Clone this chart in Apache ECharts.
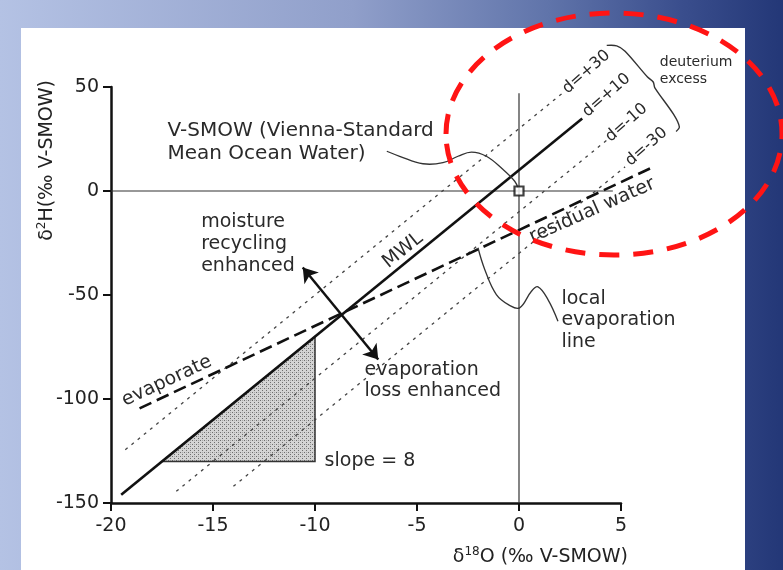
<!DOCTYPE html>
<html>
<head>
<meta charset="utf-8">
<script src="https://cdn.jsdelivr.net/npm/echarts@6/dist/echarts.min.js"></script>
<style>
  html, body { margin: 0; padding: 0; }
  #chart { width: 783px; height: 570px; }
</style>
</head>
<body>
<div id="chart"></div>
<script>
// δ2H = 8·δ18O + d, drawn for the four deuterium-excess values
const mwl = [[-19.5, -146], [3.1, 34.8]]
const dPlus30 = [[-19.3, -124.4], [2.1, 46.8]]
const dMinus10 = [[-16.8, -144.4], [4.3, 24.4]]
const dMinus30 = [[-14, -142], [5.2, 11.6]]
// local evaporation line (evaporate -> residual water)
const evapLine = [[-18.6, -104.5], [6.5, 11.2]]
const zeroH = [[-20, 0], [4.6, 0]]
const zeroV = [[0, -150], [0, 47]]
const vsmow = [[0, 0]]
const slopeTriangle = [[-17.5, -130], [-10, -70], [-10, -130]]
const shiftArrow = [[-10.6, -36.8], [-6.9, -81]]

// leader curves
const vsmowLeader = [[-6.48, 19.1], [-5.85, 16.7], [-4.71, 13.1], [-3.73, 13.6], [-2.99, 16.7], [-2.33, 18.7], [-1.6, 16.7], [-0.78, 10.3], [-0.21, 4.7], [-0.05, 1.5]]
const localLeader = [[-2.01, -27.3], [-1.68, -37.7], [-1.11, -49.8], [-0.46, -55], [0.03, -56.2], [0.61, -48.2], [0.93, -46.1], [1.42, -52.2], [1.91, -62.6]]
const excessBrace = [[4.3, 70], [4.79, 69.8], [5.2, 67.2], [6.3, 54.8], [6.58, 52.4], [6.66, 49.6], [7.58, 36.8], [7.86, 30.8], [7.7, 28.6]]

// annotation texts and where they sit (data units)
const noteText = [
  'V-SMOW (Vienna-Standard\nMean Ocean Water)',
  'moisture\nrecycling\nenhanced',
  'MWL',
  'evaporate',
  'evaporation\nloss enhanced',
  'slope = 8',
  'residual water',
  'local\nevaporation\nline',
  'deuterium\nexcess',
  'd=+30', 'd=+10', 'd=-10', 'd=-30'
]
const noteAt = [[-17.23, 23.2], [-15.58, -25.7], [-5.69, -28.5], [-17.26, -91.4], [-7.57, -90.9], [-9.53, -129.9], [3.59, -9.4], [2.08, -62.1], [6.9, 57.6], [3.3, 57.2], [4.29, 46], [5.27, 32.8], [6.25, 21.3]]
const noteAngle = [0, 0, 39, 25, 0, 0, 24, 0, 0, 41, 41, 41, 41]

const font = '"DejaVu Sans", "Liberation Sans", sans-serif'

// stipple fill for the slope triangle
const stipple = document.createElement('canvas')
stipple.width = 4
stipple.height = 4
const sctx = stipple.getContext('2d')
sctx.fillStyle = '#d4d4d4'
sctx.fillRect(0, 0, 4, 4)
sctx.fillStyle = '#6e6e6e'
sctx.fillRect(0, 0, 1, 1)
sctx.fillRect(2, 2, 1, 1)
sctx.fillStyle = '#a8a8a8'
sctx.fillRect(2, 0, 1, 1)

const noteStyle = (i) => {
  if (i === 8) return { size: 14, align: 'left', lh: 17 }
  if (i >= 9) return { size: 16, align: 'center', lh: 18 }
  if (noteAngle[i] !== 0) return { size: 19, align: 'center', lh: 22 }
  const lh = { 0: 23, 1: 22, 4: 21, 7: 21.5 }[i] || 22
  return { size: i === 0 ? 20 : 19, align: 'left', lh }
}

// polyline through data points, not clipped to the grid
const pathSeries = (data, stroke, lineWidth, lineDash = null, smooth = 0) => ({
  type: 'custom',
  silent: true,
  data,
  encode: { x: 0, y: 1 },
  renderItem: (params, api) => {
    if (params.dataIndex !== 0) return null
    return {
      type: 'polyline',
      shape: { points: data.map(p => api.coord(p)), smooth },
      style: { fill: null, stroke, lineWidth, lineDash }
    }
  }
})

const chart = echarts.init(document.getElementById('chart'))

chart.setOption({
  animation: false,
  backgroundColor: new echarts.graphic.LinearGradient(0, 0, 1, 0, [
    { offset: 0, color: '#b4c2e4' },
    { offset: 0.45, color: '#909fca' },
    { offset: 0.7, color: '#6074aa' },
    { offset: 0.87, color: '#3a4e8d' },
    { offset: 1, color: '#233777' }
  ]),
  textStyle: { fontFamily: font },
  grid: { left: 111, top: 87, width: 510, height: 416 },
  xAxis: {
    type: 'value',
    min: -20,
    max: 5,
    interval: 5,
    axisLine: { onZero: false, lineStyle: { color: '#111', width: 2.5 } },
    axisTick: { length: 8, lineStyle: { color: '#111', width: 2 } },
    axisLabel: { color: '#222', fontSize: 19, fontFamily: font, margin: 14 },
    splitLine: { show: false }
  },
  yAxis: {
    type: 'value',
    min: -150,
    max: 50,
    interval: 50,
    axisLine: { onZero: false, lineStyle: { color: '#111', width: 2.5 } },
    axisTick: { length: 8, lineStyle: { color: '#111', width: 2 } },
    axisLabel: { color: '#222', fontSize: 19, fontFamily: font, margin: 12 },
    splitLine: { show: false }
  },
  graphic: [
    {
      type: 'rect',
      z: -10,
      shape: { x: 21, y: 28, width: 724, height: 542 },
      style: { fill: '#fff' }
    },
    {
      type: 'text',
      x: 628,
      y: 557,
      style: {
        text: '{a|δ}{s|18}{a|O (‰ V-SMOW)}',
        align: 'right',
        verticalAlign: 'middle',
        rich: {
          a: { fontSize: 19, fontFamily: font, fill: '#222', lineHeight: 22 },
          s: { fontSize: 12, fontFamily: font, fill: '#222', lineHeight: 12, verticalAlign: 'top' }
        }
      }
    },
    {
      type: 'text',
      x: 47,
      y: 80,
      rotation: Math.PI / 2,
      style: {
        text: '{a|δ}{s|2}{a|H(‰ V-SMOW)}',
        align: 'right',
        verticalAlign: 'middle',
        rich: {
          a: { fontSize: 19, fontFamily: font, fill: '#222', lineHeight: 22 },
          s: { fontSize: 12, fontFamily: font, fill: '#222', lineHeight: 12, verticalAlign: 'top' }
        }
      }
    },
    {
      type: 'ellipse',
      z: 100,
      shape: { cx: 614, cy: 134, rx: 168, ry: 121 },
      style: { fill: 'transparent', stroke: '#ff1414', lineWidth: 5, lineDash: [20, 14] }
    }
  ],
  series: [
    {
      type: 'custom',
      name: 'slope',
      silent: true,
      data: slopeTriangle,
      encode: { x: 0, y: 1 },
      z: 1,
      renderItem: (params, api) => {
        if (params.dataIndex !== 0) return null
        const points = slopeTriangle.map(p => api.coord(p))
        return {
          type: 'polygon',
          shape: { points },
          style: { fill: { image: stipple, repeat: 'repeat' }, stroke: '#333', lineWidth: 1.5 }
        }
      }
    },
    pathSeries(zeroH, '#333', 1.2),
    pathSeries(zeroV, '#333', 1.2),
    pathSeries(dPlus30, '#444', 1.3, [3, 5]),
    pathSeries(dMinus10, '#444', 1.3, [3, 5]),
    pathSeries(dMinus30, '#444', 1.3, [3, 5]),
    pathSeries(evapLine, '#111', 2.6, [13, 6]),
    pathSeries(mwl, '#111', 2.6),
    pathSeries(vsmowLeader, '#333', 1.3, null, 0.4),
    pathSeries(localLeader, '#333', 1.3, null, 0.4),
    pathSeries(excessBrace, '#333', 1.4, null, 0.3),
    {
      type: 'line',
      data: shiftArrow,
      showSymbol: false,
      silent: true,
      lineStyle: { opacity: 0 },
      markLine: {
        silent: true,
        symbol: ['arrow', 'arrow'],
        symbolSize: 14,
        label: { show: false },
        lineStyle: { color: '#111', width: 2.5, type: 'solid' },
        data: [[{ coord: shiftArrow[0] }, { coord: shiftArrow[1] }]]
      }
    },
    {
      type: 'scatter',
      data: vsmow,
      symbol: 'rect',
      symbolSize: 9,
      silent: true,
      z: 5,
      itemStyle: { color: '#fff', borderColor: '#111', borderWidth: 2.2 }
    },
    {
      type: 'custom',
      name: 'notes',
      silent: true,
      z: 6,
      data: noteAt.map((p, i) => [p[0], p[1], i]),
      encode: { x: 0, y: 1 },
      renderItem: (params, api) => {
        const i = api.value(2)
        const pt = api.coord([api.value(0), api.value(1)])
        const s = noteStyle(i)
        return {
          type: 'text',
          x: pt[0],
          y: pt[1],
          rotation: noteAngle[i] * Math.PI / 180,
          style: {
            text: noteText[i],
            fill: '#2a2a2a',
            font: s.size + 'px ' + font,
            align: s.align,
            verticalAlign: 'middle',
            lineHeight: s.lh
          }
        }
      }
    }
  ]
})
</script>
</body>
</html>
